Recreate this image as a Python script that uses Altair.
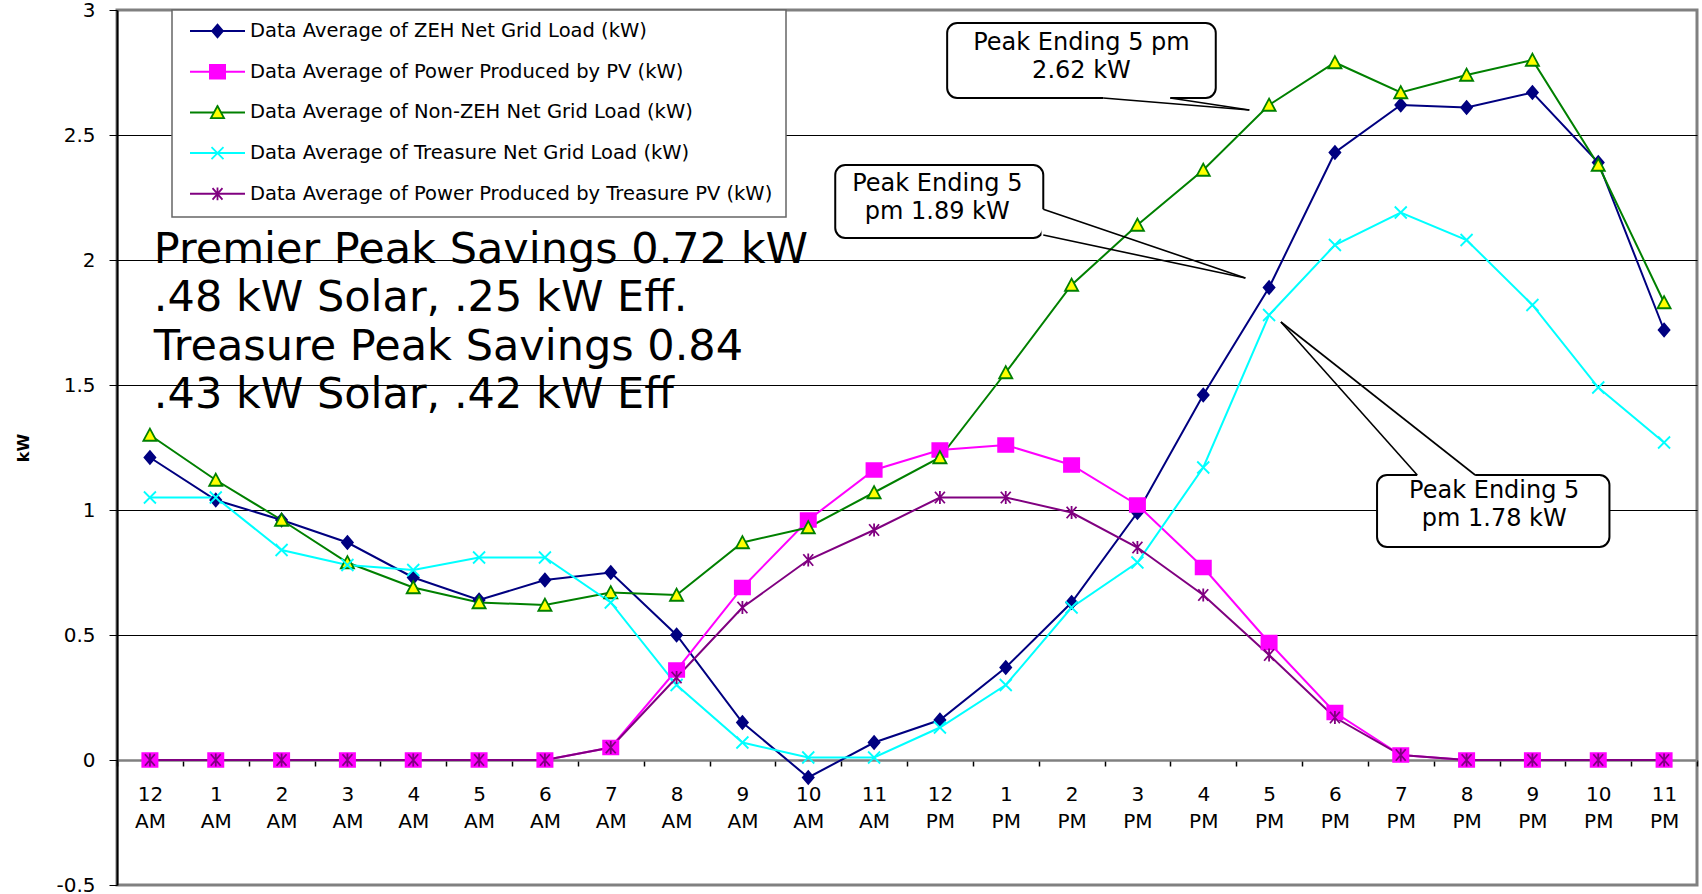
import json

import altair as alt
import pandas as pd

# ---- category labels (hour of day) ----
hour_nums = ["12", "1", "2", "3", "4", "5", "6", "7", "8", "9", "10", "11"] * 2
meridiem = ["AM"] * 12 + ["PM"] * 12

# ---- y tick labels ----
y_tick_values = [-0.5, 0, 0.5, 1, 1.5, 2, 2.5, 3]
y_tick_labels = ["-0.5", "0", "0.5", "1", "1.5", "2", "2.5", "3"]

# ---- series ----
series_names = [
    "Data Average of ZEH Net Grid Load (kW)",
    "Data Average of Power Produced by PV (kW)",
    "Data Average of Non-ZEH Net Grid Load (kW)",
    "Data Average of Treasure Net Grid Load (kW)",
    "Data Average of Power Produced by Treasure PV (kW)",
]
zeh_net = [1.21, 1.04, 0.96, 0.87, 0.73, 0.64, 0.72, 0.75, 0.50, 0.15, -0.07, 0.07,
           0.16, 0.37, 0.63, 0.99, 1.46, 1.89, 2.43, 2.62, 2.61, 2.67, 2.39, 1.72]
pv = [0, 0, 0, 0, 0, 0, 0, 0.05, 0.36, 0.69, 0.96, 1.16,
      1.24, 1.26, 1.18, 1.02, 0.77, 0.47, 0.19, 0.02, 0, 0, 0, 0]
non_zeh = [1.30, 1.12, 0.96, 0.79, 0.69, 0.63, 0.62, 0.67, 0.66, 0.87, 0.93, 1.07,
           1.21, 1.55, 1.90, 2.14, 2.36, 2.62, 2.79, 2.67, 2.74, 2.80, 2.38, 1.83]
treasure_net = [1.05, 1.05, 0.84, 0.78, 0.76, 0.81, 0.81, 0.63, 0.30, 0.07, 0.01, 0.01,
                0.13, 0.30, 0.61, 0.79, 1.17, 1.78, 2.06, 2.19, 2.08, 1.82, 1.49, 1.27]
treasure_pv = [0, 0, 0, 0, 0, 0, 0, 0.05, 0.33, 0.61, 0.80, 0.92,
               1.05, 1.05, 0.99, 0.85, 0.66, 0.42, 0.17, 0.02, 0, 0, 0, 0]
all_series = [zeh_net, pv, non_zeh, treasure_net, treasure_pv]

line_colors = ["#000080", "#FF00FF", "#008000", "#00FFFF", "#800080"]
marker_keys = ["diamond", "square", "triangle", "cross", "star"]
marker_paths = [
    "M0,-0.8L0.68,0L0,0.8L-0.68,0Z",
    "M-0.95,-0.86H0.95V0.86H-0.95Z",
    "M0,-0.8L0.82,0.72L-0.82,0.72Z",
    "M-0.75,-0.75L0.75,0.75M-0.75,0.75L0.75,-0.75",
    "M-0.62,-0.72L0.62,0.72M-0.62,0.72L0.62,-0.72M0,-0.8L0,0.8",
]
marker_fills = ["#000080", "#FF00FF", "#FFFF00", "transparent", "transparent"]
marker_strokes = ["#000080", "#FF00FF", "#008000", "#00FFFF", "#800080"]

# ---- annotations (data coordinates: hour index, kW) ----
note_text = [
    "Premier Peak Savings 0.72 kW\n.48 kW  Solar, .25 kW Eff.\n"
    "Treasure Peak Savings 0.84\n.43 kW  Solar, .42 kW Eff"
]
note_x = [0.06]
note_y = [1.99]

callout_text = ["Peak Ending 5 pm\n2.62 kW", "Peak Ending 5\npm 1.89 kW", "Peak Ending 5\npm 1.78 kW"]
callout_cx = [14.15, 11.96, 20.42]
callout_cy = [2.869, 2.303, 1.077]
box_x0 = [12.11, 10.41, 18.64]
box_x1 = [16.19, 13.57, 22.17]
box_y0 = [2.948, 2.380, 1.140]
box_y1 = [2.648, 2.088, 0.852]
# pointer wedges: two base points on the box edge and a tip
base_a = [(14.48, 2.648), (13.57, 2.203), (19.25, 1.140)]
base_b = [(15.50, 2.648), (13.57, 2.100), (20.13, 1.140)]
tips = [(16.70, 2.600), (16.64, 1.928), (17.18, 1.752)]

W, H = 1580, 875
Y_MIN, Y_MAX = -0.5, 3.0
xs = alt.Scale(domain=[-0.5, 23.5], nice=False, zero=False)
ys = alt.Scale(domain=[Y_MIN, Y_MAX], nice=False, zero=False)
FONT = "DejaVu Sans"

rows = []
for name, key, vals in zip(series_names, marker_keys, all_series):
    for i, v in enumerate(vals):
        rows.append({"hour": i, "kw": v, "series": name, "marker": key})
df = pd.DataFrame(rows)

x_label_expr = (
    f"datum.value > 23 ? '' : [{json.dumps(hour_nums)}[round(datum.value + 0.5)], "
    f"{json.dumps(meridiem)}[round(datum.value + 0.5)]]"
)
y_label_expr = f"{json.dumps(y_tick_labels)}[round((datum.value + 0.5) * 2)]"

# the hour axis sits on the kW = 0 line
x_axis = alt.Axis(
    orient="bottom",
    offset=-H * (0 - Y_MIN) / (Y_MAX - Y_MIN),
    values=[i - 0.5 for i in range(25)],
    labelExpr=x_label_expr,
    labelOffset=W / 48,
    labelFlush=False,
    labelOverlap=False,
    labelFont=FONT,
    labelFontSize=20,
    labelColor="black",
    labelLineHeight=27,
    labelPadding=18,
    tickSize=6,
    tickColor="black",
    tickWidth=1.5,
    domainColor="#808080",
    domainWidth=2.5,
    grid=False,
    title=None,
)
y_axis = alt.Axis(
    values=y_tick_values,
    labelExpr=y_label_expr,
    labelFont=FONT,
    labelFontSize=20,
    labelColor="black",
    labelPadding=14,
    tickSize=8,
    tickColor="black",
    domainColor="black",
    domainWidth=2,
    grid=True,
    gridColor="black",
    gridWidth=1,
    gridOpacity={"condition": {"test": "datum.value >= 3 || datum.value <= -0.5", "value": 0}, "value": 1},
    title="kW",
    titleFont=FONT,
    titleFontSize=16,
    titleFontWeight="bold",
    titleColor="black",
    titlePadding=24,
)


def xq(field):
    return alt.X(field, type="quantitative", scale=xs, axis=x_axis)


def yq(field):
    return alt.Y(field, type="quantitative", scale=ys, axis=y_axis)


legend_common = dict(
    title=None,
    orient="none",
    legendX=55,
    legendY=0,
    direction="vertical",
    labelFont=FONT,
    labelFontSize=19.5,
    labelColor="black",
    labelLimit=800,
    labelOffset=4,
    padding=13,
    rowPadding=20.7,
    clipHeight=16,
)
line_legend = alt.Legend(
    symbolType="stroke",
    symbolSize=3025,
    symbolStrokeWidth=2,
    symbolOffset=4,
    fillColor="white",
    strokeColor="#666666",
    **legend_common,
)
# marker symbols drawn over the line samples of the legend above
marker_legend = alt.Legend(
    symbolSize=256,
    symbolStrokeWidth=1.8,
    symbolOffset=22.75,
    labelExpr="' '",
    fillColor="transparent",
    strokeColor="transparent",
    **legend_common,
)

lines = alt.Chart(df).mark_line(strokeWidth=2).encode(
    x=xq("hour"),
    y=yq("kw"),
    color=alt.Color("series:N", scale=alt.Scale(domain=series_names, range=line_colors), legend=line_legend),
)

points = alt.Chart(df).mark_point(opacity=1, strokeWidth=1.8, size=256).encode(
    x=xq("hour"),
    y=yq("kw"),
    shape=alt.Shape("marker:N", scale=alt.Scale(domain=marker_keys, range=marker_paths), legend=marker_legend),
    fill=alt.Fill("marker:N", scale=alt.Scale(domain=marker_keys, range=marker_fills), legend=marker_legend),
    stroke=alt.Stroke("marker:N", scale=alt.Scale(domain=marker_keys, range=marker_strokes), legend=marker_legend),
)

box_df = pd.DataFrame({"x0": box_x0, "x1": box_x1, "y0": box_y0, "y1": box_y1})
boxes = alt.Chart(box_df).mark_rect(fill="white", stroke="black", strokeWidth=2, cornerRadius=10).encode(
    x=xq("x0"), x2="x1:Q", y=yq("y0"), y2="y1:Q",
)

gap_df = pd.DataFrame({
    "x0": [a[0] for a in base_a], "y0": [a[1] for a in base_a],
    "x1": [b[0] for b in base_b], "y1": [b[1] for b in base_b],
})
gaps = alt.Chart(gap_df).mark_rule(color="white", strokeWidth=3.5).encode(
    x=xq("x0"), x2="x1:Q", y=yq("y0"), y2="y1:Q",
)

tail_rows = []
for a, b, t in zip(base_a, base_b, tips):
    tail_rows.append({"x0": a[0], "y0": a[1], "x1": t[0], "y1": t[1]})
    tail_rows.append({"x0": b[0], "y0": b[1], "x1": t[0], "y1": t[1]})
tails = alt.Chart(pd.DataFrame(tail_rows)).mark_rule(color="black", strokeWidth=1.6).encode(
    x=xq("x0"), x2="x1:Q", y=yq("y0"), y2="y1:Q",
)

callouts = alt.Chart(pd.DataFrame({"x": callout_cx, "y": callout_cy, "t": callout_text})).mark_text(
    font=FONT, fontSize=24, lineBreak="\n", lineHeight=28, align="center", baseline="middle", color="black"
).encode(x=xq("x"), y=yq("y"), text="t:N")

note = alt.Chart(pd.DataFrame({"x": note_x, "y": note_y, "t": note_text})).mark_text(
    font=FONT, fontSize=43, lineBreak="\n", lineHeight=48.5, align="left", baseline="alphabetic", color="black"
).encode(x=xq("x"), y=yq("y"), text="t:N")

chart = (
    alt.layer(lines, points, boxes, gaps, tails, callouts, note)
    .properties(
        width=W,
        height=H,
        autosize=alt.AutoSizeParams(type="none"),
        padding={"left": 117, "top": 10, "right": 5, "bottom": 9},
        background="white",
    )
    .configure_view(stroke="#808080", strokeWidth=3)
    .configure_legend(strokeWidth=1.5)
)

chart.save("out.html", embed_options={"renderer": "svg", "actions": False})
